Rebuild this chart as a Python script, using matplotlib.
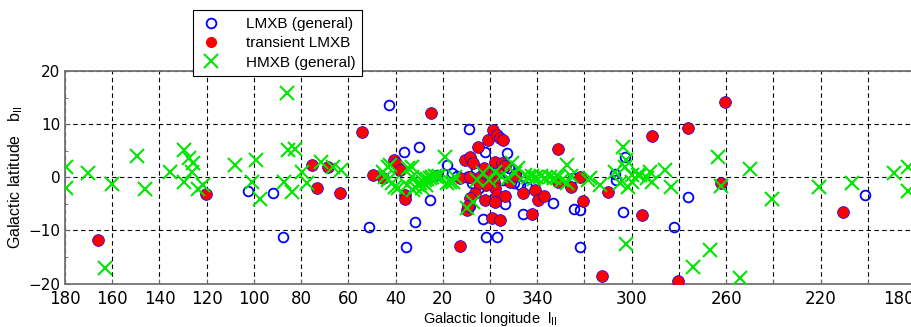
import numpy as np
import matplotlib
matplotlib.use("Agg")
import matplotlib.pyplot as plt
from matplotlib.lines import Line2D

plt.rcParams["font.family"] = ["Liberation Sans", "DejaVu Sans"]

# galactic longitude wrapped to (-180, 180], latitude in degrees
lmxb_l = [42.8, 36.4, 30.1, 25.4, 31.8, 35.6, 51.4, 102.6, 91.8, 87.6,
          16.2, 13.8, 18.3, 22.3, 6.0, 3.5, 1.0, -3.0, -5.5, -8.0, -10.0,
          -12.7, -15.8, -11.0, 4.5, 7.5, -7.1, 2.1, 8.8, 8.5, 3.1, 1.7,
          -3.1, -6.4, -13.9, -26.8, -35.6, -38.1, -38.1, -35.3, -52.9,
          -53.2, -57.2, -56.2, -83.7, -78.1, -158.8]
lmxb_b = [13.6, 4.8, 5.75, -4.26, -8.5, -13.1, -9.4, -2.6, -3.0, -11.3,
          0.75, 0.25, 2.3, 0.4, 1.5, 0.5, -1.0, 1.2, -0.5, 1.8, -1.0,
          -1.45, -1.75, 0.8, -2.0, -1.0, 4.6, 4.8, 9.0, -5.5, -7.9, -11.3,
          -11.3, -5.0, -6.9, -4.76, -6.0, -6.25, -13.1, -0.2, 0.6,
          -0.6, 3.8, -6.45, -3.8, -9.3, -3.3]

trans_l = [165.9, 120.3, 75.5, 68.7, 73.3, 63.5, 54.3, 49.4, 45.5, 40.5,
           39.8, 38.3, 36.2, 36.0, 25.1, 12.7, 10.6, 8.5, 7.1, 5.0, 0.7,
           -1.4, -2.8, -4.2, -5.6, 9.2, 12.7, 8.5, 4.2, 0.0, -2.1, -4.9,
           -6.5, 2.5, -1.5, -3.5, -8.5, -10.5, 6.4, 9.9, 8.5, 9.2, 2.1,
           -2.1, -2.8, -2.1, -6.4, -0.7, -4.2, -14.1, -19.1, -20.5, -23.0,
           -17.7, -28.9, -34.2, -38.1, -39.5, -50.1, -64.2, -47.3, -79.8,
           -28.9, -68.5, -83.7, -99.5, -97.7, -149.7, 1.5, 4.5]
trans_b = [-11.9, -3.1, 2.3, 2.0, -2.1, -3.0, 8.55, 0.43, -0.2, 3.25,
           2.6, 1.3, -3.4, -4.1, 12.1, -12.9, 3.25, 3.9, 2.75, 5.75, 7.0,
           8.9, 7.9, 7.4, 7.0, 0.1, -0.2, 0.1, 0.1, 0.4, 2.9, 2.75,
           2.2, 1.8, -0.8, 0.8, -0.8, 0.5, -3.0, -6.1, -3.9, -5.5, -4.3,
           -2.1, -3.3, -4.6, -3.6, -7.7, -8.0, -3.0, -2.4, -4.3, -3.5,
           -6.9, -0.8, -1.75, 0.1, -4.4, -2.7, -7.1, -18.6, -19.6,
           5.4, 7.8, 9.3, 14.2, -1.0, -6.45, -1.5, -1.0]

hmxb_l = [179.5, 179.5, 170.1, 160.0, 149.4, 146.0, 135.7, 129.6, 127.4,
          125.7, 126.2, 129.6, 123.5, 121.7, 108.0, 163.1, 86.1, 99.2,
          100.9, 97.4, 85.4, 82.6, 87.1, 83.7, 79.8, 77.6, 71.6, 66.4, 63.1,
          45.2, 43.1, 44.5, 43.2, 41.6, 40.2, 38.8, 42.4, 35.3, 34.6, 33.2,
          33.2, 32.5, 31.8, 30.5, 29.5, 28.5, 27.5, 26.5, 25.5, 24.5, 23.5,
          22.5, 21.5, 29.0, 27.0, 19.1, 18.3, 16.9, 15.5, 14.8,
          2.8, 7.1, 9.6, -2.1, -9.2, -12.0, -10.6, -7.8, -14.8, -17.7,
          -19.5, -21.5, -23.5, -25.4, -27.0, -29.0, 0.5, 5.5, -4.5, -16.0,
          -18.5, -32.5, -32.5, -30.5, -34.5, -42.4, -41.6, -46.6, -52.9,
          -55.1, -56.5, -57.2, -57.5, -58.6, -60.0, -60.0, -62.8, -63.5,
          -66.4, -67.8, -68.5, -74.1, -76.5, -57.5, -86.1, -93.2, -105.9,
          -96.7, -97.8, -110.1, -119.3, -139.5, -153.5, -171.2, -177.2,
          -177.2]
hmxb_b = [2.0, -2.0, 0.75, -1.3, 4.05, -2.25, 1.05, 5.1, 3.7,
          2.6, 1.05, -0.95, -2.2, -1.45, 2.3, -17.1, 15.8, 3.25,
          -0.95, -4.1, 5.1, 5.4, -0.8, -2.7, 0.9, -1.1, 2.9, 2.0, 1.4,
          1.05, 2.0, 0.1, -0.5, -1.0, -1.75, -2.1, 2.3, -1.45, 1.7, 2.0,
          0.1, -2.4, -1.75, -1.4, -1.1, -0.8, -0.5, -0.3, -0.1, 0.1, 0.2,
          0.0, 0.3, -2.0, -1.5, 3.9, -1.1, -0.8, -0.8, 0.1,
          0.75, -4.7, -5.8, 1.05, 2.6, 1.7, 0.75, -0.2, 0.4, 0.3,
          0.0, 0.2, -0.1, 0.1, -0.2, 0.0, -0.5, -0.5, 0.2, 0.0,
          -0.4, 2.3, -1.1, -0.6, 0.2, -0.2, -0.5, -1.45, 1.05,
          -1.1, 5.75, 2.0, 3.2, -1.75, 0.4, -0.8, 0.5, 0.4,
          -0.2, 1.05, -0.8, 1.4, -1.9, -12.5, -16.8, -13.6, -19.0,
          3.9, -1.6, 1.5, -4.1, -1.75, -1.1, 0.85, 2.0,
          -2.6]

xticks = np.arange(180, -181, -20)
xtick_labels = ["180", "160", "140", "120", "100", "80", "60", "40", "20",
                "0", "340", "", "300", "", "260", "", "220", "", "180"]

fig = plt.figure(figsize=(9.12, 3.27), dpi=100)
ax = fig.add_axes([65 / 912, 43.5 / 327, 850 / 912, 212.5 / 327])

ax.plot(lmxb_l, lmxb_b, "o", ls="none", mfc="none", mec="blue", ms=7,
        mew=1.3, zorder=3)
ax.plot(trans_l, trans_b, "o", ls="none", mfc="red", mec="blue", ms=8.5,
        mew=0.5, zorder=4)
ax.plot(hmxb_l, hmxb_b, "x", ls="none", color="#00e600", ms=10, mew=1.5,
        zorder=5)

ax.set_xlim(180, -180)
ax.set_ylim(-20, 20)
ax.set_xticks(xticks)
ax.set_xticklabels(xtick_labels)
ax.set_yticks([-20, -10, 0, 10, 20])
ax.set_yticks([-15, -5, 5, 15], minor=True)
ax.tick_params(axis="both", which="both", direction="in", labelsize=11,
               color="0.4")
ax.tick_params(axis="x", pad=5, labelsize=12)
for lab in ax.get_xticklabels() + ax.get_yticklabels():
    lab.set_family("DejaVu Sans")
# the last label sits at the cropped right edge
ax.get_xticklabels()[-1].set_horizontalalignment("right")
ax.grid(True, color="black", ls=(0, (4, 3)), lw=0.8)
for s in ax.spines.values():
    s.set_color("0.45")
    s.set_linewidth(1.3)

ax.set_xlabel(r"Galactic longitude  $\mathregular{l_{II}}$", fontsize=10.5,
              labelpad=1)
ax.set_ylabel(r"Galactic latitude   $\mathregular{b_{II}}$", fontsize=11.5,
              labelpad=2)

handles = [
    Line2D([], [], ls="none", marker="o", mfc="none", mec="blue", ms=7, mew=1.3),
    Line2D([], [], ls="none", marker="o", mfc="red", mec="red", ms=7),
    Line2D([], [], ls="none", marker="x", color="#00e600", ms=10, mew=1.5),
]
leg = fig.legend(handles, ["LMXB (general)", "transient LMXB", "HMXB (general)"],
                 loc="upper left", bbox_to_anchor=(193 / 912, 1 - 10 / 327),
                 fontsize=11, frameon=True, fancybox=False, framealpha=1,
                 edgecolor="black", labelspacing=0.35, handlelength=1.5,
                 handletextpad=1.5, borderpad=0.45, borderaxespad=0)
leg.get_frame().set_linewidth(0.8)

fig.savefig("out.png", dpi=100)
